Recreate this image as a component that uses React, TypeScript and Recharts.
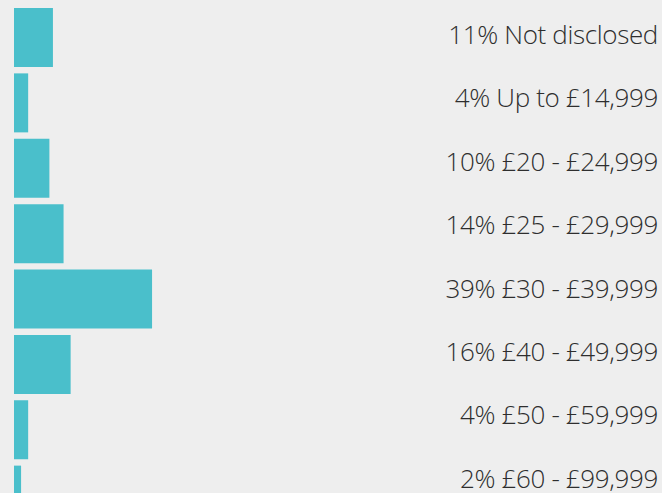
import React from "react";
import { BarChart, Bar, XAxis, YAxis, LabelList } from "recharts";

const categories = [
  "Not disclosed",
  "Up to £14,999",
  "£20 - £24,999",
  "£25 - £29,999",
  "£30 - £39,999",
  "£40 - £49,999",
  "£50 - £59,999",
  "£60 - £99,999",
];
const percentages = [11, 4, 10, 14, 39, 16, 4, 2];

const data = categories.map((name, i) => ({ name, value: percentages[i] }));

const W = 662;
const H = 528;
const LABEL_FIRST_BASELINE = 44;
const LABEL_PITCH = 63.4;

const renderLabel = (props: any) => {
  const { index } = props;
  const label = `${percentages[index]}% ${categories[index]}`;
  return (
    <text
      x={W - 4}
      y={LABEL_FIRST_BASELINE + index * LABEL_PITCH}
      textAnchor="end"
      fill="#2e2e2e"
      fontSize={26}
      fontWeight={300}
      letterSpacing={-0.35}
      fontFamily="'Open Sans', sans-serif"
    >
      {label}
    </text>
  );
};

export default function App() {
  return (
    <div
      style={{
        position: "fixed",
        top: 0,
        left: 0,
        width: 662,
        height: 493,
        overflow: "hidden",
        background: "#eeeeee",
      }}
    >
      <BarChart
        width={W}
        height={H}
        data={data}
        layout="vertical"
        margin={{ top: 5, right: 294, bottom: 0, left: 14 }}
        barCategoryGap={3}
      >
        <XAxis type="number" domain={[0, 100]} hide />
        <YAxis type="category" dataKey="name" hide />
        <Bar dataKey="value" fill="#4abfcb" isAnimationActive={false}>
          <LabelList dataKey="value" content={renderLabel} />
        </Bar>
      </BarChart>
    </div>
  );
}
